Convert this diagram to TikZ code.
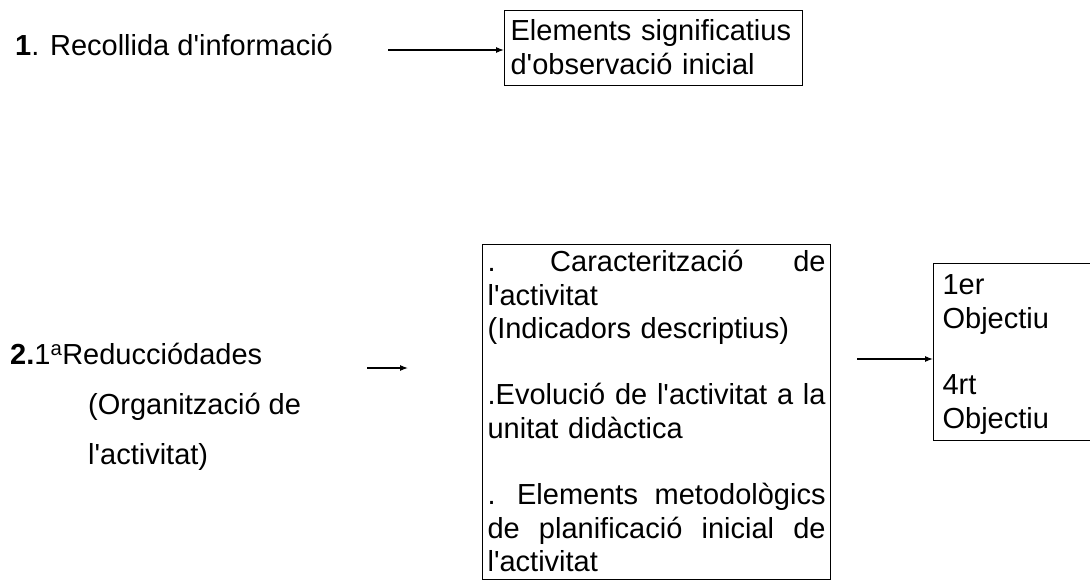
\documentclass[tikz,border=0pt]{standalone}
\usepackage{fontspec}
\setmainfont{Liberation Sans}
\usetikzlibrary{arrows.meta}
\newcommand{\mystr}{\rule[-7.3pt]{0pt}{33.3pt}}
\newcommand{\lstr}{\rule[-24pt]{0pt}{50pt}}
\newcommand{\ap}{\textquotesingle}
\newcommand{\jl}[1]{\hbox to 338pt{#1}}
\begin{document}
\begin{tikzpicture}[x=1pt,y=-1pt,
  box/.style={draw, line width=1.2pt, anchor=north west, inner xsep=9pt, align=left,
    font=\fontsize{29}{33.3}\selectfont},
  txt/.style={inner sep=0pt, font=\fontsize{29}{33.3}\selectfont},
  arr/.style={line width=1.1pt, -{Latex[length=8pt,width=6pt]}}]
\useasboundingbox (0,0) rectangle (1090,580);

% row 1
\node[txt, anchor=base west] (t1) at (15,56) {\textbf{1}. Recollida d\ap informació};
\node[box, inner xsep=6pt, inner ysep=4.2pt, text width=286pt] (b1) at (504,10)
  {\mystr\mbox{Elements significatius}\\\mystr\mbox{d\ap observació inicial}};
\coordinate (a1s) at (388,50);
\draw[arr] (a1s) -- (a1s -| b1.west);

% row 2
\node[txt, anchor=north west, align=left, font=\fontsize{29}{50}\selectfont] (t2) at (10,338)
  {\lstr\textbf{2.}1\textsuperscript{a}Reducciódades\\
   \hspace*{78pt}\lstr(Organització de\\
   \hspace*{78pt}\lstr l\ap activitat)};
\coordinate (a2s) at (367,368);
\coordinate (a2e) at (408,368);
\draw[arr] (a2s) -- (a2e);

\node[box, inner xsep=5pt, inner ysep=1.2pt, text width=338pt] (b2) at (482,244)
  {\mystr\jl{. \hfill Caracterització \hfill de}\\
   \mystr l\ap activitat\\
   \mystr (Indicadors descriptius)\\
   \mystr\\
   \mystr\jl{.Evolució \hfill de \hfill l\ap activitat \hfill a \hfill la}\\
   \mystr unitat didàctica\\
   \mystr\\
   \mystr\jl{. \hfill Elements \hfill metodològics}\\
   \mystr\jl{de \hfill planificació \hfill inicial \hfill de}\\
   \mystr l\ap activitat};

\node[box, inner ysep=5.25pt, text width=142pt] (b3) at (933,263)
  {\mystr 1er\\\mystr Objectiu\\\mystr\\\mystr 4rt\\\mystr Objectiu};
\coordinate (a3s) at (857,359);
\draw[arr] (a3s) -- (a3s -| b3.west);
\end{tikzpicture}
\end{document}
